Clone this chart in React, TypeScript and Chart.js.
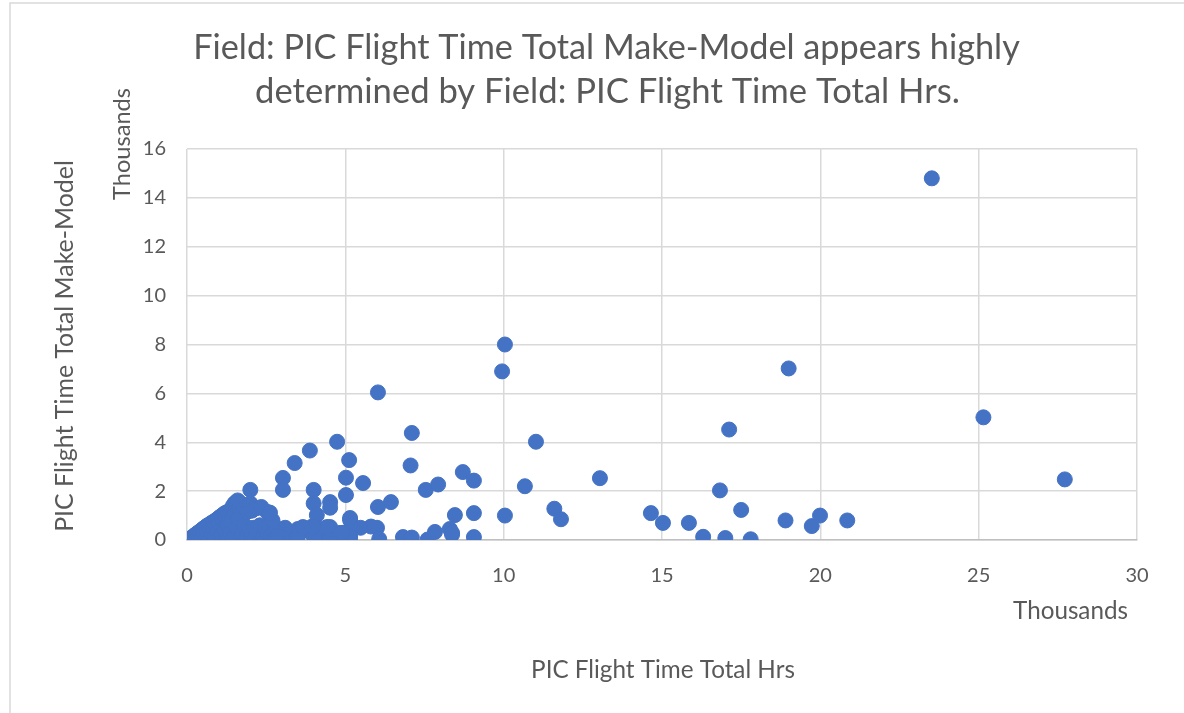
import React, { useEffect, useRef } from "react";
import { Chart, registerables } from "chart.js";

Chart.register(...registerables);

// PIC Flight Time Total Hrs (thousands)
const flightHrs: number[] = [
  23.52, 10.04, 9.95, 19.0, 6.03, 25.15, 17.12, 4.74, 7.1, 11.02,
  3.88, 3.4, 5.12, 7.06, 8.71, 9.06, 13.04, 10.67, 27.72, 16.83,
  3.03, 3.03, 2.0, 4.0, 5.02, 5.56, 7.54, 7.93, 5.02, 6.44,
  6.03, 4.52, 4.52, 4.0, 4.1, 11.6, 11.81, 14.65, 15.03, 15.85,
  17.5, 18.9, 19.73, 19.99, 20.85, 16.3, 17.0, 17.8, 10.04, 9.06,
  8.46, 8.37, 8.3, 9.06, 6.82, 7.1, 7.6, 7.83, 6.0, 6.07,
  5.81, 5.15, 5.15, 4.52, 4.45, 4.95, 4.2, 3.95, 3.7, 3.5,
  3.3, 3.1, 2.9, 2.62, 2.53, 2.7, 3.0, 3.5, 4.0, 5.48,
  5.21, 4.83, 4.52, 4.42, 3.98, 3.66, 5.15, 5.15, 4.89, 8.37,
  0.02, 0.05, 0.08, 0.1, 0.12, 0.15, 0.18, 0.2, 0.22, 0.25,
  0.28, 0.3, 0.32, 0.35, 0.38, 0.4, 0.42, 0.45, 0.48, 0.5,
  0.52, 0.55, 0.58, 0.6, 0.62, 0.65, 0.68, 0.7, 0.72, 0.75,
  0.78, 0.8, 0.82, 0.85, 0.88, 0.9, 0.92, 0.95, 0.98, 1.0,
  1.02, 1.05, 1.08, 1.1, 1.12, 1.15, 1.18, 1.2, 1.22, 1.25,
  1.28, 1.3, 1.32, 1.35, 1.38, 1.4, 1.42, 1.45, 1.48, 1.5,
  1.52, 1.55, 1.58, 1.6, 1.62, 1.65, 1.7, 1.72, 1.75, 1.8,
  1.82, 1.85, 1.9, 1.95, 2.0, 2.02, 2.05, 2.1, 2.15, 2.2,
  2.25, 2.3, 2.35, 2.4, 2.45, 2.5, 2.55, 2.6, 2.65, 2.7,
  2.75, 2.8, 2.85, 2.6,
];

// PIC Flight Time Total Make-Model (thousands)
const makeModelHrs: number[] = [
  14.8, 8.0, 6.9, 7.02, 6.04, 5.02, 4.52, 4.02, 4.38, 4.02,
  3.66, 3.15, 3.27, 3.05, 2.78, 2.43, 2.53, 2.2, 2.48, 2.03,
  2.54, 2.05, 2.05, 2.05, 2.55, 2.33, 2.05, 2.27, 1.84, 1.55,
  1.35, 1.55, 1.32, 1.5, 1.02, 1.28, 0.85, 1.1, 0.7, 0.7,
  1.23, 0.8, 0.57, 1.0, 0.8, 0.13, 0.08, 0.03, 1.0, 1.1,
  1.02, 0.22, 0.45, 0.12, 0.12, 0.1, 0.02, 0.33, 0.5, 0.04,
  0.55, 0.82, 0.12, 0.53, 0.12, 0.3, 0.45, 0.55, 0.4, 0.45,
  0.3, 0.5, 0.45, 1.12, 1.15, 0.35, 0.1, 0.12, 0.15, 0.5,
  0.53, 0.29, 0.12, 0.53, 0.53, 0.53, 0.9, 0.12, 0.29, 0.29,
  0.01, 0.03, 0.05, 0.02, 0.08, 0.1, 0.04, 0.15, 0.1, 0.2,
  0.05, 0.25, 0.15, 0.3, 0.1, 0.35, 0.22, 0.4, 0.05, 0.45,
  0.3, 0.5, 0.15, 0.55, 0.38, 0.6, 0.02, 0.62, 0.45, 0.68,
  0.25, 0.72, 0.5, 0.75, 0.1, 0.8, 0.6, 0.85, 0.35, 0.9,
  0.7, 0.95, 0.18, 1.0, 0.8, 1.05, 0.45, 1.1, 0.9, 0.05,
  1.15, 0.6, 1.0, 1.2, 0.3, 1.25, 0.8, 1.4, 0.12, 1.5,
  1.1, 1.55, 0.5, 1.62, 0.9, 1.3, 1.5, 0.2, 1.0, 1.3,
  0.6, 0.05, 1.15, 0.4, 1.5, 0.15, 1.2, 0.5, 0.08, 1.3,
  0.3, 0.6, 1.35, 0.15, 0.5, 0.05, 0.3, 0.6, 0.2, 0.8,
  0.1, 0.3, 0.15, 1.1,
];

const xTicks = [0, 5, 10, 15, 20, 25, 30];
const yTicks = [0, 2, 4, 6, 8, 10, 12, 14, 16];

const titleLines = [
  "Field: PIC Flight Time Total Make-Model appears highly",
  "determined by Field: PIC Flight Time Total Hrs.",
];
const yAxisTitle = "PIC Flight Time Total Make-Model";
const xAxisTitle = "PIC Flight Time Total Hrs";
const unitLabel = "Thousands";

const FONT = "Lato, 'Open Sans', sans-serif";
const TEXT = "#595959";

function drawFitted(
  ctx: CanvasRenderingContext2D,
  text: string,
  x: number,
  y: number,
  width: number,
  rotate: boolean
) {
  ctx.save();
  ctx.font = `100px ${FONT}`;
  const w = ctx.measureText(text).width;
  const size = (100 * width) / w;
  ctx.font = `${size}px ${FONT}`;
  ctx.fillStyle = TEXT;
  ctx.textAlign = "center";
  ctx.textBaseline = "alphabetic";
  ctx.translate(x, y);
  if (rotate) ctx.rotate(-Math.PI / 2);
  ctx.fillText(text, 0, 0);
  ctx.restore();
}

const textPlugin = {
  id: "textPlugin",
  beforeDraw(chart: any) {
    const ctx = chart.ctx as CanvasRenderingContext2D;
    ctx.save();
    ctx.fillStyle = "#ffffff";
    ctx.fillRect(0, 0, chart.width, chart.height);
    ctx.strokeStyle = "#d9d9d9";
    ctx.lineWidth = 1.5;
    ctx.strokeRect(10, 3, 1400, 900);
    ctx.restore();
  },
  afterDraw(chart: any) {
    const ctx = chart.ctx as CanvasRenderingContext2D;
    drawFitted(ctx, titleLines[0], 606.5, 59, 827, false);
    drawFitted(ctx, titleLines[1], 607.5, 103, 705, false);
    drawFitted(ctx, yAxisTitle, 73, 346, 372, true);
    drawFitted(ctx, unitLabel, 130, 144, 112, true);
    drawFitted(ctx, unitLabel, 1070.5, 619, 115, false);
    drawFitted(ctx, xAxisTitle, 663, 678, 264, false);
  },
};

export default function App() {
  const ref = useRef<HTMLCanvasElement | null>(null);

  useEffect(() => {
    if (!ref.current) return;
    const points = flightHrs.map((x, i) => ({ x, y: makeModelHrs[i] }));
    const chart = new Chart(ref.current, {
      type: "scatter",
      data: {
        datasets: [
          {
            data: points,
            backgroundColor: "#4472C4",
            borderColor: "#4472C4",
            borderWidth: 1,
            pointRadius: 7.5,
            pointHoverRadius: 7.5,
          },
        ],
      },
      options: {
        responsive: false,
        animation: false,
        devicePixelRatio: 1,
        layout: { padding: { left: 0, right: 47, top: 149, bottom: 0 } },
        plugins: {
          legend: { display: false },
          tooltip: { enabled: false },
          title: { display: false },
        },
        scales: {
          x: {
            type: "linear",
            min: 0,
            max: 30,
            afterFit: (s: any) => {
              s.height = 173;
            },
            afterBuildTicks: (s: any) => {
              s.ticks = xTicks.map((v) => ({ value: v }));
            },
            ticks: {
              color: TEXT,
              font: { family: FONT, size: 20 },
              padding: 24,
              maxRotation: 0,
            },
            grid: { color: "#d9d9d9", lineWidth: 1.5, drawTicks: false },
            border: { display: true, color: "#bfbfbf", width: 1.5 },
          },
          y: {
            type: "linear",
            min: 0,
            max: 16,
            afterFit: (s: any) => {
              s.width = 187;
            },
            afterBuildTicks: (s: any) => {
              s.ticks = yTicks.map((v) => ({ value: v }));
            },
            ticks: {
              color: TEXT,
              font: { family: FONT, size: 20 },
              padding: 21,
            },
            grid: { color: "#d9d9d9", lineWidth: 1.5, drawTicks: false },
            border: { display: false },
          },
        },
      },
      plugins: [textPlugin],
    });
    return () => chart.destroy();
  }, []);

  return (
    <div style={{ position: "fixed", left: 0, top: 0, width: 1184, height: 713, background: "#fff" }}>
      <canvas ref={ref} width={1184} height={713} style={{ display: "block" }} />
    </div>
  );
}
